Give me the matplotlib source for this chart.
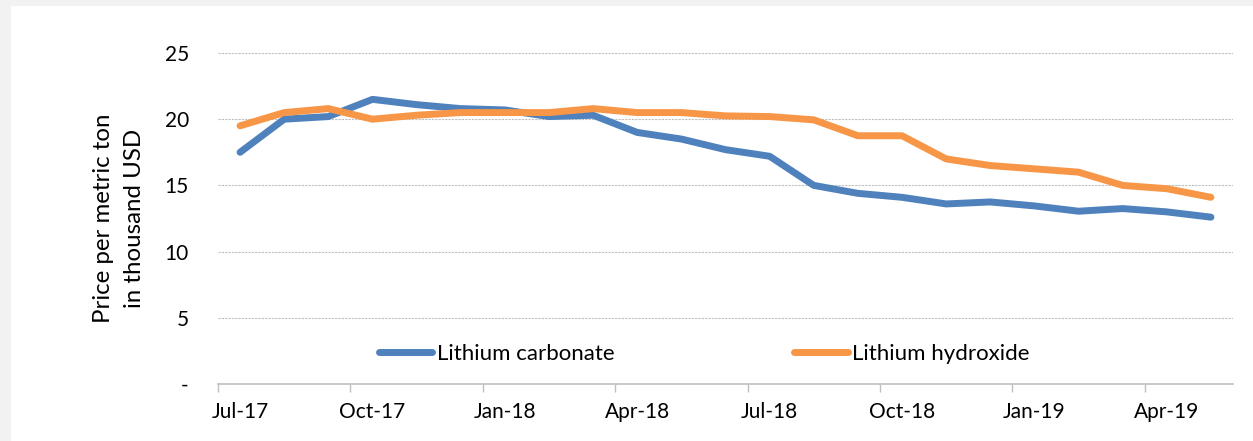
import matplotlib
matplotlib.use("Agg")
import matplotlib.pyplot as plt
from matplotlib.patches import Rectangle
from matplotlib.ticker import FixedLocator, FixedFormatter

plt.rcParams["font.family"] = ["Lato", "DejaVu Sans"]

months = [
    "Jul-17", "Aug-17", "Sep-17", "Oct-17", "Nov-17", "Dec-17",
    "Jan-18", "Feb-18", "Mar-18", "Apr-18", "May-18", "Jun-18",
    "Jul-18", "Aug-18", "Sep-18", "Oct-18", "Nov-18", "Dec-18",
    "Jan-19", "Feb-19", "Mar-19", "Apr-19", "May-19",
]
carbonate = [
    17.5, 20.0, 20.2, 21.5, 21.1, 20.8, 20.7, 20.2, 20.3, 19.0, 18.5, 17.7,
    17.2, 15.0, 14.4, 14.1, 13.6, 13.75, 13.45, 13.05, 13.25, 13.0, 12.6,
]
hydroxide = [
    19.5, 20.5, 20.8, 20.0, 20.3, 20.5, 20.5, 20.5, 20.8, 20.5, 20.5, 20.25,
    20.2, 19.95, 18.75, 18.75, 17.0, 16.5, 16.25, 16.0, 15.0, 14.75, 14.1,
]
series_names = ["Lithium carbonate", "Lithium hydroxide"]
y_ticks = [0, 5, 10, 15, 20, 25]
y_labels = ["-", "5", "10", "15", "20", "25"]

BLUE = "#4f81bd"
ORANGE = "#f79646"
GRID = "#bfbfbf"

fig = plt.figure(figsize=(12.53, 4.41), dpi=100)
fig.patch.set_facecolor("#f2f2f2")
fig.patches.append(Rectangle((11 / 1253, 0), 1, 435 / 441, transform=fig.transFigure,
                             facecolor="white", edgecolor="none", zorder=-10))

ax = fig.add_axes([218 / 1253, 57 / 441, 1015 / 1253, 331 / 441])
ax.set_facecolor("none")

x = list(range(len(months)))
ax.plot(x, carbonate, color=BLUE, lw=5, solid_capstyle="round", label=series_names[0])
ax.plot(x, hydroxide, color=ORANGE, lw=5, solid_capstyle="round", label=series_names[1])

ax.set_xlim(-0.5, len(months) - 0.5)
ax.set_ylim(0, 25)

ax.set_yticks(y_ticks)
ax.set_yticklabels(y_labels)
ax.tick_params(axis="y", length=0, pad=21, labelsize=15)
for v in y_ticks[1:]:
    ax.axhline(v, color=GRID, lw=0.8, ls=(0, (2, 1)), zorder=0)

label_pos = x[::3]
ax.xaxis.set_major_locator(FixedLocator(label_pos))
ax.xaxis.set_major_formatter(FixedFormatter(months[::3]))
ax.xaxis.set_minor_locator(FixedLocator([p - 0.5 for p in label_pos]))
ax.tick_params(axis="x", which="major", length=0, pad=13, labelsize=15)
ax.tick_params(axis="x", which="minor", length=6, width=1, color=GRID, direction="out")

for side in ["top", "right", "left"]:
    ax.spines[side].set_visible(False)
ax.spines["bottom"].set_color(GRID)
ax.spines["bottom"].set_linewidth(1.2)

ax.set_ylabel("Price per metric ton\nin thousand USD", fontsize=17.3, labelpad=14,
              linespacing=1.62)

ax.legend(loc="center", bbox_to_anchor=(0.479, 0.09), ncol=2, frameon=False,
          fontsize=16, handlelength=2.4, handletextpad=0.2, columnspacing=8.1)

fig.savefig("out.png", dpi=100, facecolor=fig.get_facecolor())
